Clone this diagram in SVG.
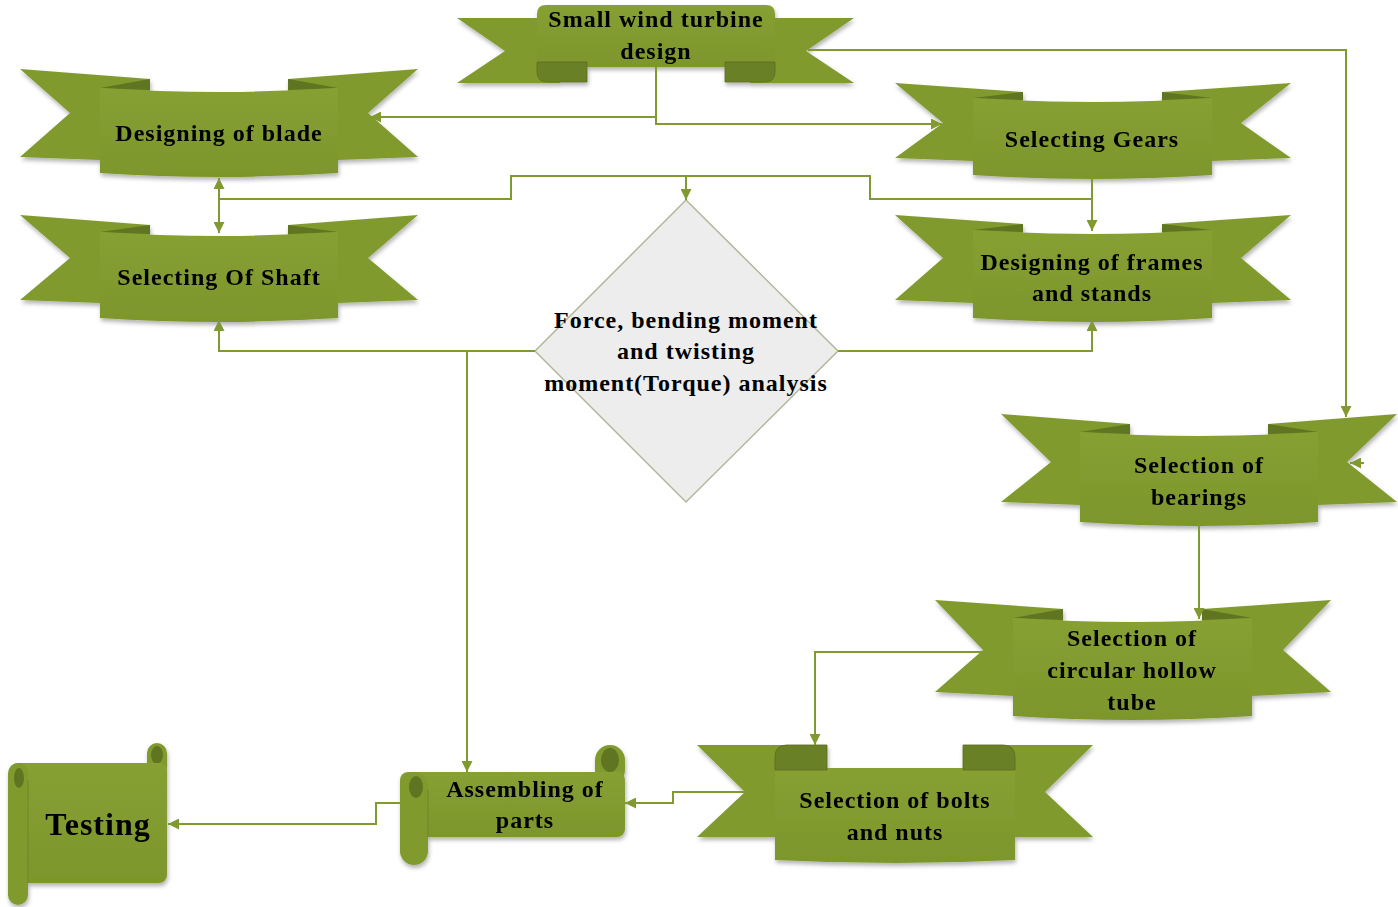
<svg xmlns="http://www.w3.org/2000/svg" width="1398" height="907" viewBox="0 0 1398 907">
<defs>
<style>
.tail{fill:#819a2f}
.fold{fill:#5f7420}
.panel{fill:url(#pg)}
.roll{fill:#6a8025;stroke:#5a6d1e;stroke-width:0.8}
.curl{fill:#5f7420}
.t{font-family:"Liberation Serif","Times New Roman",serif;font-weight:bold;font-size:24px;letter-spacing:1px;fill:#000;text-anchor:middle}
.c{fill:none;stroke:#819a2f;stroke-width:2}
.a{marker-end:url(#ah)}
</style>
<linearGradient id="pg" x1="0" y1="0" x2="0" y2="1">
<stop offset="0" stop-color="#86a033"/>
<stop offset="1" stop-color="#7d962c"/>
</linearGradient>
<filter id="sh" x="-10%" y="-10%" width="120%" height="130%">
<feDropShadow dx="1" dy="3" stdDeviation="2" flood-color="#000" flood-opacity="0.3"/>
</filter>
<marker id="ah" viewBox="0 0 10 10" refX="10" refY="5" markerWidth="11" markerHeight="11" markerUnits="userSpaceOnUse" orient="auto-start-reverse">
<path d="M0,0 L10,5 L0,10 Z" fill="#819a2f"/>
</marker>
</defs>
<rect width="1398" height="907" fill="#fff"/>

<g id="n-top" filter="url(#sh)">
<path class="tail" d="M457,18 L560,18 L560,83 L457,83 L505,51 Z"/>
<path class="tail" d="M854,18 L750,18 L750,83 L854,83 L806,51 Z"/>
<path class="panel" d="M537,14 Q537,5 546,5 L766,5 Q775,5 775,14 L775,67 L537,67 Z"/>
<path class="roll" d="M537,62 L587,62 L587,82 L547,82 Q537,82 537,72 Z"/>
<path class="roll" d="M725,62 L775,62 L775,72 Q775,82 765,82 L725,82 Z"/>
<text class="t" x="656" y="27">Small wind turbine</text>
<text class="t" x="656" y="59">design</text>
</g>

<g id="n-blade" filter="url(#sh)">
<path class="tail" d="M20,69 L150,79 L150,163 L100,160 L20,157 L70,113 Z"/>
<path class="fold" d="M100,88 L150,79 L150,90 Z"/>
<path class="tail" d="M418,69 L288,79 L288,163 L338,160 L418,157 L368,113 Z"/>
<path class="fold" d="M338,88 L288,79 L288,90 Z"/>
<path class="panel" d="M100,88 Q219,96 338,88 L338,173 Q219,181 100,173 Z"/>
<text class="t" x="219" y="141">Designing of blade</text>
</g>

<g id="n-gears" filter="url(#sh)">
<path class="tail" d="M895,83 L1023,92 L1023,165 L973,161 L895,158 L943,123 Z"/>
<path class="fold" d="M973,98 L1023,92 L1023,100 Z"/>
<path class="tail" d="M1291,83 L1162,92 L1162,165 L1212,161 L1291,158 L1241,123 Z"/>
<path class="fold" d="M1212,98 L1162,92 L1162,100 Z"/>
<path class="panel" d="M973,98 Q1092,106 1212,98 L1212,175 Q1092,183 973,175 Z"/>
<text class="t" x="1092" y="147">Selecting Gears</text>
</g>

<g id="n-shaft" filter="url(#sh)">
<path class="tail" d="M20,215 L150,225 L150,308 L100,303 L20,300 L70,258 Z"/>
<path class="fold" d="M100,232 L150,225 L150,234 Z"/>
<path class="tail" d="M418,215 L288,225 L288,308 L338,303 L418,300 L368,258 Z"/>
<path class="fold" d="M338,232 L288,225 L288,234 Z"/>
<path class="panel" d="M100,232 Q219,240 338,232 L338,318 Q219,326 100,318 Z"/>
<text class="t" x="219" y="285">Selecting Of Shaft</text>
</g>

<g id="n-frames" filter="url(#sh)">
<path class="tail" d="M895,215 L1023,224 L1023,308 L973,303 L895,300 L943,258 Z"/>
<path class="fold" d="M973,230 L1023,224 L1023,232 Z"/>
<path class="tail" d="M1291,215 L1162,224 L1162,308 L1212,303 L1291,300 L1241,258 Z"/>
<path class="fold" d="M1212,230 L1162,224 L1162,232 Z"/>
<path class="panel" d="M973,230 Q1092,238 1212,230 L1212,318 Q1092,326 973,318 Z"/>
<text class="t" x="1092" y="270">Designing of frames</text>
<text class="t" x="1092" y="301">and stands</text>
</g>

<g id="n-analysis">
<polygon points="686,200 838,351 686,502 535,351" fill="#ededed" stroke="#b3b79a" stroke-width="1.5"/>
<text class="t" x="686" y="328">Force, bending moment</text>
<text class="t" x="686" y="359">and twisting</text>
<text class="t" x="686" y="391">moment(Torque) analysis</text>
</g>

<g id="n-bearings" filter="url(#sh)">
<path class="tail" d="M1001,414 L1130,424 L1130,512 L1080,505 L1001,502 L1051,462 Z"/>
<path class="fold" d="M1080,432 L1130,424 L1130,434 Z"/>
<path class="tail" d="M1397,414 L1268,424 L1268,512 L1318,505 L1397,502 L1347,462 Z"/>
<path class="fold" d="M1318,432 L1268,424 L1268,434 Z"/>
<path class="panel" d="M1080,432 Q1199,440 1318,432 L1318,522 Q1199,530 1080,522 Z"/>
<text class="t" x="1199" y="473">Selection of</text>
<text class="t" x="1199" y="505">bearings</text>
</g>

<g id="n-tube" filter="url(#sh)">
<path class="tail" d="M935,600 L1063,609 L1063,706 L1013,696 L935,692 L983,650 Z"/>
<path class="fold" d="M1013,618 L1063,609 L1063,620 Z"/>
<path class="tail" d="M1331,600 L1202,609 L1202,706 L1252,696 L1331,692 L1283,650 Z"/>
<path class="fold" d="M1252,618 L1202,609 L1202,620 Z"/>
<path class="panel" d="M1013,618 Q1132,626 1252,618 L1252,716 Q1132,724 1013,716 Z"/>
<text class="t" x="1132" y="646">Selection of</text>
<text class="t" x="1132" y="678">circular hollow</text>
<text class="t" x="1132" y="710">tube</text>
</g>

<g id="n-bolts" filter="url(#sh)">
<path class="tail" d="M697,745 L800,745 L800,837 L697,837 L745,792 Z"/>
<path class="tail" d="M1093,745 L990,745 L990,837 L1093,837 L1045,792 Z"/>
<path class="panel" d="M775,768 L1015,768 L1015,860 Q895,866 775,860 Z"/>
<path class="roll" d="M775,770 L775,757 Q775,745 787,745 L827,745 L827,770 Z"/>
<path class="roll" d="M1015,770 L1015,757 Q1015,745 1003,745 L963,745 L963,770 Z"/>
<text class="t" x="895" y="808">Selection of bolts</text>
<text class="t" x="895" y="840">and nuts</text>
</g>

<g id="n-assembling" filter="url(#sh)">
<rect class="tail" x="595" y="745" width="30" height="40" rx="15"/>
<ellipse class="curl" cx="610" cy="760" rx="9" ry="12"/>
<rect class="panel" x="400" y="772" width="225" height="65" rx="8"/>
<rect class="tail" x="400" y="772" width="28" height="93" rx="14"/>
<ellipse class="curl" cx="416" cy="787" rx="7" ry="11"/>
<line x1="428" y1="790" x2="428" y2="837" stroke="#6e8526" stroke-width="1"/>
<text class="t" x="525" y="797">Assembling of</text>
<text class="t" x="525" y="828">parts</text>
</g>

<g id="n-testing" filter="url(#sh)">
<rect class="tail" x="147" y="743" width="20" height="34" rx="10"/>
<ellipse class="curl" cx="157" cy="755" rx="6" ry="9"/>
<rect class="panel" x="10" y="763" width="157" height="120" rx="8"/>
<rect class="tail" x="8" y="763" width="20" height="142" rx="10"/>
<ellipse class="curl" cx="19" cy="778" rx="5" ry="10"/>
<line x1="28" y1="780" x2="28" y2="883" stroke="#6e8526" stroke-width="1"/>
<text class="t" x="98" y="835" style="font-size:32px">Testing</text>
</g>

<g id="connectors">
<path class="c a" d="M656,67 V124 H942"/>
<path class="c a" d="M656,117 H370"/>
<path class="c a" d="M808,50 H1346 V417"/>
<path class="c a" d="M1364,463 H1350"/>
<path class="c" d="M219,199 H511 V176 H870 V199 H1092"/>
<path class="c a" d="M686,176 V200"/>
<path class="c a" d="M1092,175 V231"/>
<path class="c a" d="M219,178 V233" style="marker-start:url(#ah)"/>
<path class="c a" d="M535,351 H219 V320"/>
<path class="c a" d="M467,351 V772"/>
<path class="c a" d="M838,351 H1092 V320"/>
<path class="c a" d="M1199,524 V619"/>
<path class="c a" d="M983,652 H815 V745"/>
<path class="c a" d="M745,792 H673 V803 H625"/>
<path class="c a" d="M400,803 H376 V824 H168"/>
</g>
</svg>
